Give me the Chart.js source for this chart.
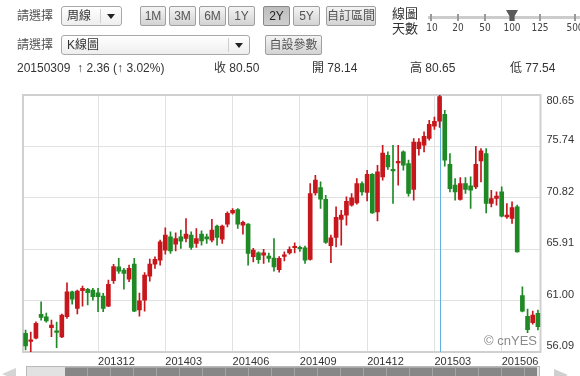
<!DOCTYPE html>
<html>
<head>
<meta charset="utf-8">
<script src="https://cdn.jsdelivr.net/npm/chart.js@4/dist/chart.umd.min.js"></script>
<style>
body { margin: 0; background: #fff; font-family: "Liberation Sans", "Noto Sans CJK TC", sans-serif; }
#wrap { position: relative; width: 580px; height: 376px; overflow: hidden; }
#plot { position: absolute; left: 0; top: 0; }
.t { position: absolute; font-size: 12px; color: #333; white-space: nowrap; line-height: 14px; }
.lbl { color: #555; }
.sel { position: absolute; height: 20px; box-sizing: border-box; border: 1px solid #a8a8a8; border-radius: 3px;
       background: linear-gradient(#ffffff, #eeeeee); font-size: 12px; line-height: 18px; color: #333; padding-left: 5px; }
.sel .sep { position: absolute; top: 2px; bottom: 2px; width: 1px; background: #cfcfcf; }
.sel .arr { position: absolute; top: 7px; width: 0; height: 0; border-left: 4px solid transparent;
            border-right: 4px solid transparent; border-top: 5px solid #222; }
.btn { position: absolute; height: 20px; box-sizing: border-box; border: 1px solid #a0a0a0; border-radius: 2px;
       background: linear-gradient(#f4f4f4, #d3d3d3); font-size: 12px; line-height: 18px; color: #555; text-align: center; }
.btn.on { background: linear-gradient(#bdbdbd, #cfcfcf); color: #222; border-color: #888; }
.tick { position: absolute; top: 14px; width: 2px; height: 7px; background: #999; }
.num { position: absolute; top: 22px; width: 30px; margin-left: -15px; text-align: center;
       font: 10px "Liberation Sans Narrow", "DejaVu Sans Condensed", sans-serif; color: #444; }
#mark { position: absolute; right: 43px; top: 333px; font-size: 13px; color: #8a8a8a; }
#track { position: absolute; left: 26px; top: 366px; width: 514px; height: 12px; box-sizing: border-box;
         border: 1px solid #b9b9b9; background: #e2e2e2; }
#thumb { position: absolute; left: 65px; top: 367px; width: 472px; height: 10px; background: #878787;
         border-top: 1px solid #a8a8a8;
         background-image: repeating-linear-gradient(90deg, transparent 0, transparent 22px, #a4a4a4 22px, #a4a4a4 23px); }
</style>
</head>
<body>
<div id="wrap">
  <canvas id="plot" width="580" height="376"></canvas>

  <div class="t lbl" style="left:17px;top:9px">請選擇</div>
  <div class="sel" style="left:61px;top:6px;width:61px">周線<div class="sep" style="left:38px"></div><div class="arr" style="left:45px"></div></div>
  <div class="btn" style="left:140px;top:6px;width:26px">1M</div>
  <div class="btn" style="left:169px;top:6px;width:27px">3M</div>
  <div class="btn" style="left:199px;top:6px;width:27px">6M</div>
  <div class="btn" style="left:228px;top:6px;width:27px">1Y</div>
  <div class="btn on" style="left:263px;top:6px;width:27px">2Y</div>
  <div class="btn" style="left:293px;top:6px;width:27px">5Y</div>
  <div class="btn" style="left:326px;top:6px;width:50px">自訂區間</div>
  <div class="t" style="left:392px;top:6px;font-size:13px;line-height:15px">線圖<br>天數</div>
  <div style="position:absolute;left:428px;top:16px;width:152px;height:3px;background:#cccccc"></div>
  <div class="tick" style="left:430px"></div>
  <div class="tick" style="left:457px"></div>
  <div class="tick" style="left:484px"></div>
  <div class="tick" style="left:539px"></div>
  <div class="tick" style="left:574px"></div>
  <div style="position:absolute;left:506px;top:10px;width:12px;height:11px;background:#5a5a5a;clip-path:polygon(0 0,100% 0,72% 55%,72% 100%,28% 100%,28% 55%)"></div>
  <div class="num" style="left:432px">10</div>
  <div class="num" style="left:458px">20</div>
  <div class="num" style="left:485px">50</div>
  <div class="num" style="left:512px">100</div>
  <div class="num" style="left:540px">125</div>
  <div class="num" style="left:575px">500</div>

  <div class="t lbl" style="left:17px;top:38px">請選擇</div>
  <div class="sel" style="left:61px;top:35px;width:189px">K線圖<div class="sep" style="left:166px"></div><div class="arr" style="left:173px"></div></div>
  <div class="btn" style="left:265px;top:35px;width:57px">自設參數</div>

  <div class="t" style="left:17px;top:61px">20150309&nbsp;&nbsp;↑ 2.36 (↑ 3.02%)</div>
  <div class="t" style="left:214px;top:61px">收 80.50</div>
  <div class="t" style="left:312px;top:61px">開 78.14</div>
  <div class="t" style="left:410px;top:61px">高 80.65</div>
  <div class="t" style="left:510px;top:61px">低 77.54</div>

  <div id="mark">© cnYES</div>

  <div style="position:absolute;left:2px;top:368px;width:0;height:0;border-top:6px solid transparent;border-bottom:6px solid transparent;border-right:14px solid #d4d4d4"></div>
  <div id="track"></div>
  <div id="thumb"></div>
  <div style="position:absolute;left:554px;top:369px;width:0;height:0;border-top:6px solid transparent;border-bottom:6px solid transparent;border-left:14px solid #cfcfcf"></div>
</div>

<script>
// weekly candles, 2 years
var weekDates = [
    "20130826", "20130902", "20130909", "20130916", "20130923", "20130930", "20131007", "20131014", "20131021", "20131028",
    "20131104", "20131111", "20131118", "20131125", "20131202", "20131209", "20131216", "20131223", "20131230", "20140106",
    "20140113", "20140120", "20140127", "20140203", "20140210", "20140217", "20140224", "20140303", "20140310", "20140317",
    "20140324", "20140331", "20140407", "20140414", "20140421", "20140428", "20140505", "20140512", "20140519", "20140526",
    "20140602", "20140609", "20140616", "20140623", "20140630", "20140707", "20140714", "20140721", "20140728", "20140804",
    "20140811", "20140818", "20140825", "20140901", "20140908", "20140915", "20140922", "20140929", "20141006", "20141013",
    "20141020", "20141027", "20141103", "20141110", "20141117", "20141124", "20141201", "20141208", "20141215", "20141222",
    "20141229", "20150105", "20150112", "20150119", "20150126", "20150202", "20150209", "20150216", "20150223", "20150302",
    "20150309", "20150316", "20150323", "20150330", "20150406", "20150413", "20150420", "20150427", "20150504", "20150511",
    "20150518", "20150525", "20150601", "20150608", "20150615", "20150622", "20150629", "20150706", "20150713", "20150720"
];
var openP = [
    57.87, 57.10, 57.40, 59.69, 59.46, 58.41, 58.09, 57.52, 59.46, 61.85,
    60.26, 61.94, 62.07, 62.01, 61.75, 61.44, 60.48, 62.91, 64.23, 63.92,
    63.06, 64.49, 60.10, 61.05, 63.34, 64.49, 64.87, 65.83, 67.10, 66.40,
    67.10, 66.94, 67.26, 66.46, 67.35, 67.10, 66.78, 68.12, 66.88, 68.31,
    69.39, 69.71, 68.21, 68.31, 65.19, 65.57, 65.35, 65.25, 65.06, 63.96,
    65.23, 65.57, 66.05, 65.99, 66.05, 64.94, 71.30, 71.81, 70.69, 66.24,
    67.04, 68.76, 69.17, 70.12, 70.34, 72.19, 71.33, 73.08, 69.48, 72.82,
    74.89, 73.53, 74.16, 75.21, 74.10, 71.62, 75.53, 75.85, 76.49, 77.66,
    78.14, 78.81, 74.03, 72.03, 70.66, 72.19, 71.96, 71.87, 74.35, 75.06,
    70.28, 70.76, 71.39, 69.00, 68.85, 69.96, 61.48, 59.50, 58.89, 59.78
];
var highP = [
    58.19, 58.00, 58.98, 60.89, 59.81, 59.14, 58.95, 59.72, 62.70, 61.91,
    62.00, 62.39, 62.17, 62.17, 62.17, 61.69, 62.96, 64.46, 65.03, 64.08,
    64.39, 65.03, 61.72, 63.68, 64.97, 65.19, 66.78, 67.95, 67.57, 67.48,
    67.73, 68.85, 67.57, 67.89, 67.67, 67.35, 68.76, 68.21, 68.21, 69.48,
    69.80, 69.80, 68.59, 68.37, 65.99, 65.66, 65.89, 65.54, 66.94, 65.21,
    65.66, 66.14, 66.52, 66.21, 66.21, 72.19, 72.98, 72.35, 71.07, 67.26,
    69.96, 69.64, 70.91, 71.24, 72.67, 72.35, 73.46, 73.15, 73.94, 75.85,
    75.21, 75.85, 75.85, 75.31, 74.42, 76.49, 76.49, 77.12, 78.24, 78.55,
    80.65, 79.19, 75.06, 72.67, 72.76, 72.76, 72.82, 75.75, 75.53, 75.53,
    71.55, 71.39, 71.87, 70.28, 70.44, 70.12, 62.32, 60.19, 60.00, 60.10
];
var lowP = [
    56.28, 56.09, 57.33, 59.14, 58.95, 57.55, 56.50, 57.47, 59.31, 60.67,
    59.72, 60.48, 60.58, 61.05, 59.94, 59.94, 60.43, 62.65, 63.60, 62.10,
    62.80, 59.94, 59.52, 60.00, 62.87, 64.08, 64.39, 65.44, 65.51, 65.76,
    65.99, 66.62, 65.89, 66.09, 66.30, 66.46, 66.62, 66.30, 66.46, 68.05,
    69.26, 67.89, 67.35, 64.39, 64.71, 64.56, 64.56, 64.68, 63.82, 63.72,
    64.80, 65.44, 65.57, 65.70, 64.56, 64.87, 71.07, 69.80, 66.46, 64.62,
    66.14, 66.30, 68.21, 70.03, 70.22, 71.07, 70.53, 69.33, 68.62, 72.51,
    73.53, 70.28, 72.03, 73.46, 70.98, 70.60, 74.89, 75.21, 76.33, 77.35,
    77.54, 73.84, 71.39, 70.60, 70.60, 71.24, 69.80, 71.71, 72.35, 69.39,
    69.96, 70.12, 69.00, 68.85, 68.37, 65.63, 59.91, 57.93, 58.76, 58.19
];
var closeP = [
    56.66, 57.20, 58.83, 59.40, 59.05, 58.67, 57.97, 59.62, 61.85, 61.15,
    61.91, 62.17, 61.75, 61.37, 61.37, 60.26, 62.55, 64.25, 63.82, 63.60,
    64.08, 60.00, 60.99, 63.44, 64.49, 64.94, 66.62, 67.26, 65.76, 66.94,
    66.68, 67.35, 66.09, 66.94, 66.71, 66.90, 67.73, 67.04, 68.12, 69.33,
    69.64, 68.31, 68.47, 65.51, 65.83, 64.91, 65.57, 65.03, 64.23, 65.03,
    65.29, 65.89, 66.09, 65.96, 64.87, 71.24, 72.51, 70.69, 66.56, 67.00,
    68.95, 69.17, 70.50, 70.82, 72.19, 71.39, 73.08, 69.39, 73.30, 75.11,
    73.78, 73.40, 74.32, 73.94, 71.24, 76.16, 76.16, 76.71, 77.85, 78.14,
    80.50, 74.42, 71.71, 71.39, 72.19, 71.62, 71.55, 74.03, 75.31, 70.28,
    70.76, 70.98, 69.07, 69.17, 69.90, 65.66, 59.99, 58.22, 59.62, 58.50
];

// axis
var xTickIdx = [14, 27, 40, 53, 66, 79, 92];
var xTickLabels = ["201312", "201403", "201406", "201409", "201412", "201503", "201506"];
var yGridVals = [56.09, 58.546, 61.00, 63.456, 65.91, 68.366, 70.82, 73.278, 75.74, 78.194, 80.65];
var yTickLabels = ["56.09", "", "61.00", "", "65.91", "", "70.82", "", "75.74", "", "80.65"];
var selectedWeek = 80;

var UP = "#c7171d";
var DOWN = "#1f8a25";

var candleColors = openP.map((o, i) => closeP[i] >= o ? UP : DOWN);

var framePlugin = {
    id: "frame",
    beforeDatasetsDraw: function(chart) {
        var ctx = chart.ctx, a = chart.chartArea;
        ctx.save();
        ctx.strokeStyle = "#d0d0d0";
        ctx.lineWidth = 2;
        ctx.strokeRect(a.left, a.top, a.right - a.left, a.bottom - a.top);
        // selected week
        var x = Math.round(chart.scales.x.getPixelForValue(selectedWeek)) + 0.5;
        ctx.strokeStyle = "#5eb2dc";
        ctx.lineWidth = 1;
        ctx.beginPath();
        ctx.moveTo(x, a.top);
        ctx.lineTo(x, a.bottom);
        ctx.stroke();
        ctx.restore();
    }
};

var chart = new Chart(document.getElementById("plot"), {
    type: "bar",
    data: {
        labels: weekDates,
        datasets: [
            {
                label: "body",
                data: openP.map((o, i) => [o, closeP[i]]),
                backgroundColor: candleColors,
                barThickness: 4,
                minBarLength: 1.5,
                grouped: false,
                order: 1,
            },
            {
                label: "wick",
                data: lowP.map((l, i) => [l, highP[i]]),
                backgroundColor: candleColors,
                barThickness: 1,
                grouped: false,
                order: 2,
            },
        ]
    },
    options: {
        responsive: false,
        devicePixelRatio: 1,
        animation: false,
        layout: { padding: { left: 23, top: 95, right: 0, bottom: 8 } },
        plugins: { legend: { display: false }, tooltip: { enabled: false } },
        scales: {
            x: {
                offset: true,
                border: { display: false },
                grid: {
                    offset: false,
                    drawTicks: false,
                    color: function(c) {
                        return xTickIdx.includes(c.index) ? "#e1e1e1" : "rgba(0,0,0,0)";
                    },
                },
                ticks: {
                    autoSkip: false,
                    maxRotation: 0,
                    minRotation: 0,
                    align: "start",
                    padding: 3,
                    color: "#333",
                    font: { family: "Liberation Sans", size: 11 },
                    callback: function(v, i) {
                        var k = xTickIdx.indexOf(i);
                        return k >= 0 ? xTickLabels[k] : "";
                    }
                },
                afterFit: function(s) { s.height = 16; },
            },
            y: {
                position: "right",
                min: yGridVals[0],
                max: yGridVals[yGridVals.length - 1],
                border: { display: false },
                grid: { color: "#e1e1e1", drawTicks: false },
                afterBuildTicks: function(s) {
                    s.ticks = yGridVals.map(v => ({ value: v }));
                },
                ticks: {
                    padding: 6,
                    color: "#333",
                    font: { family: "Liberation Sans", size: 11, lineHeight: 1.1 },
                    callback: function(v, i) {
                        var t = yTickLabels[i];
                        if (!t) return "";
                        // top label sits under its line, the others above
                        return i == yTickLabels.length - 1 ? ["", t] : [t, ""];
                    }
                },
                afterFit: function(s) { s.width = 39.5; },
            }
        }
    },
    plugins: [framePlugin]
});
</script>
</body>
</html>
